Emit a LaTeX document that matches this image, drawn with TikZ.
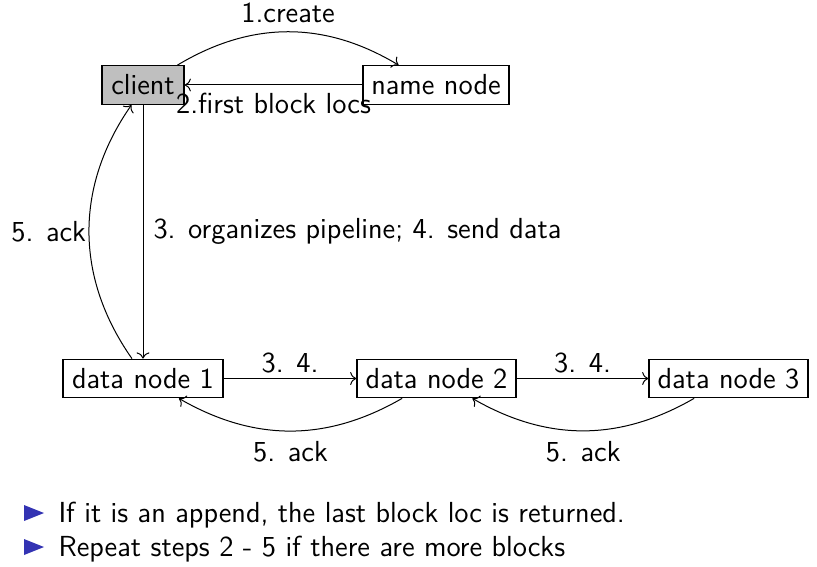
\documentclass[tikz,border=0pt]{standalone}
\usetikzlibrary{arrows.meta}
\definecolor{beamerblue}{RGB}{51,51,179}
\begin{document}
\begin{tikzpicture}[x=0.4pt,y=0.4pt,
  every node/.style={font=\fontsize{11.6}{13.8}\selectfont\sffamily},
  box/.style={draw, line width=0.5pt, inner sep=0pt, minimum height=15.4pt},
  arr/.style={->, line width=0.4pt},
  lbl/.style={inner sep=1pt}]
\useasboundingbox (0,0) rectangle (817,-566);
\node[box, fill=black!25, minimum width=32.8pt] (client) at (143,-85) {client};
\node[box, minimum width=58.4pt] (name) at (436,-85) {name node};
\node[box, minimum width=64pt] (dn1) at (143,-378.5) {data node 1};
\node[box, minimum width=63.6pt] (dn2) at (436.5,-378.5) {data node 2};
\node[box, minimum width=63.6pt] (dn3) at (728.5,-378.5) {data node 3};

\draw[arr] (client.30) to[bend left=31] node[above, lbl, yshift=2.5pt] (l1) {1.create} (name.152);
\draw[arr] (name.west) -- node[below, lbl, yshift=-2pt] (l2) {2.first block locs} (client.east);
\draw[arr] (client.south) -- node[right, lbl, xshift=3pt] (l3) {3. organizes pipeline; 4. send data} (dn1.north);
\draw[arr] (dn1.119) to[bend left=35] node[left, lbl] (l5a) {5. ack} (client.240);
\draw[arr] (dn1.east) -- node[above, lbl, yshift=1pt] (l34a) {3. 4.} (dn2.west);
\draw[arr] (dn2.east) -- node[above, lbl, yshift=1pt] (l34b) {3. 4.} (dn3.west);
\draw[arr] (dn2.210) to[bend left=30] node[below, lbl, yshift=-3pt] (l5b) {5. ack} (dn1.331);
\draw[arr] (dn3.210) to[bend left=30] node[below, lbl, yshift=-3pt] (l5c) {5. ack} (dn2.331);

\fill[beamerblue] (24,-505) -- (24,-521) -- (44,-513) -- cycle;
\fill[beamerblue] (24,-539) -- (24,-555) -- (44,-547) -- cycle;
\node[anchor=base west, inner sep=0pt] (b1) at (58,-522) {If it is an append, the last block loc is returned.};
\node[anchor=base west, inner sep=0pt] (b2) at (58,-556) {Repeat steps 2 - 5 if there are more blocks};
\end{tikzpicture}
\end{document}
